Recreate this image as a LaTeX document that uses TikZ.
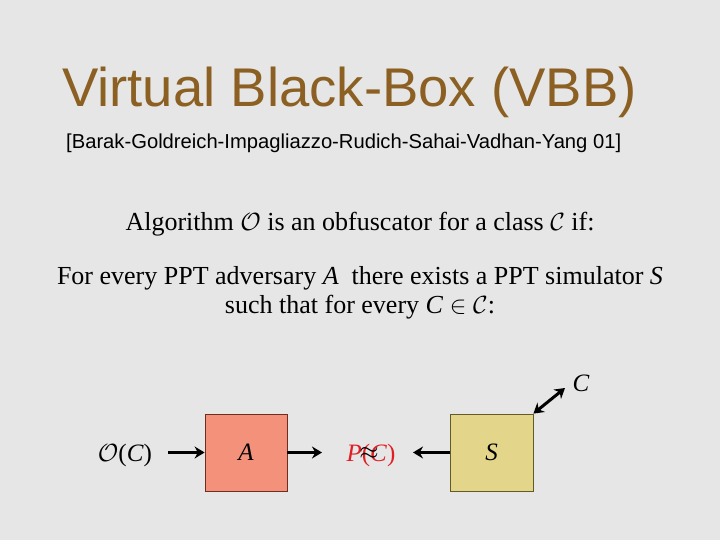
\documentclass[tikz,border=0pt]{standalone}
\usepackage{fontspec}
\setmainfont{Liberation Serif}
\newfontfamily\titlefont{Liberation Sans}
\usetikzlibrary{arrows.meta}
\definecolor{bg}{RGB}{230,230,230}
\definecolor{titlebrown}{RGB}{139,96,34}
\definecolor{salmon}{RGB}{244,145,123}
\definecolor{salmonedge}{RGB}{110,45,30}
\definecolor{khaki}{RGB}{227,214,139}
\definecolor{khakiedge}{RGB}{100,90,40}
\definecolor{pred}{RGB}{225,30,35}
\tikzset{
  boxA/.style={draw=salmonedge, line width=0.8pt, fill=salmon, minimum width=82pt, minimum height=77pt, inner sep=0pt, font=\fontsize{25}{28}\selectfont},
  boxS/.style={draw=khakiedge, line width=0.8pt, fill=khaki, minimum width=83pt, minimum height=77pt, inner sep=0pt, font=\fontsize{25}{28}\selectfont},
  arr/.style={line width=3pt, -{Stealth[length=10pt,width=12pt]}},
  darr/.style={line width=3pt, {Stealth[length=10pt,width=12pt]}-{Stealth[length=10pt,width=12pt]}},
  body/.style={font=\fontsize{26}{30}\selectfont, inner sep=0pt},
  small/.style={font=\fontsize{25}{28}\selectfont, inner sep=0pt},
}
\begin{document}
\begin{tikzpicture}[x=1pt,y=-1pt]
\useasboundingbox (0,0) rectangle (720,540);
\fill[bg] (0,0) rectangle (720,540);
\node[anchor=base west, inner sep=0pt, text=titlebrown, font=\titlefont\fontsize{54.5}{60}\selectfont] (title) at (62,107) {Virtual Black-Box (VBB)};
\node[anchor=base west, inner sep=0pt, font=\titlefont\fontsize{20.2}{24}\selectfont] (sub) at (66,149) {[Barak-Goldreich-Impagliazzo-Rudich-Sahai-Vadhan-Yang 01]};
\node[body, anchor=base] (l1) at (360,230) {Algorithm $\mathcal{O}$ is an obfuscator for a class $\mathcal{C}$ if:};
\node[body, anchor=base] (l2) at (360,284) {For every PPT adversary \textit{A}\ \ there exists a PPT simulator \textit{S}};
\node[body, anchor=base] (l3) at (360,313) {such that for every \textit{C} $\in \mathcal{C}$:};
\node[boxA] (A) at (246,452.5) {\textit{A}};
\node[boxS] (S) at (491.5,452.5) {\textit{S}};
\node[small, anchor=base] (OC) at (125,461) {$\mathcal{O}$(\textit{C})};
\node[small, anchor=base, text=pred] (PC) at (371,461) {\textit{P}(\textit{C})};
\node[small, anchor=center] (approx) at (369,453) {$\approx$};
\node[small, anchor=base] (Clab) at (581,391) {\textit{C}};
\coordinate (oend) at (168,452.5);
\coordinate (aout) at (322,452.5);
\coordinate (sout) at (413,452.5);
\coordinate (cend) at (565,388);
\draw[arr] (oend) -- (A.west);
\draw[arr] (A.east) -- (aout);
\draw[arr] (S.west) -- (sout);
\draw[darr] (S.north east) -- (cend);
\end{tikzpicture}
\end{document}
